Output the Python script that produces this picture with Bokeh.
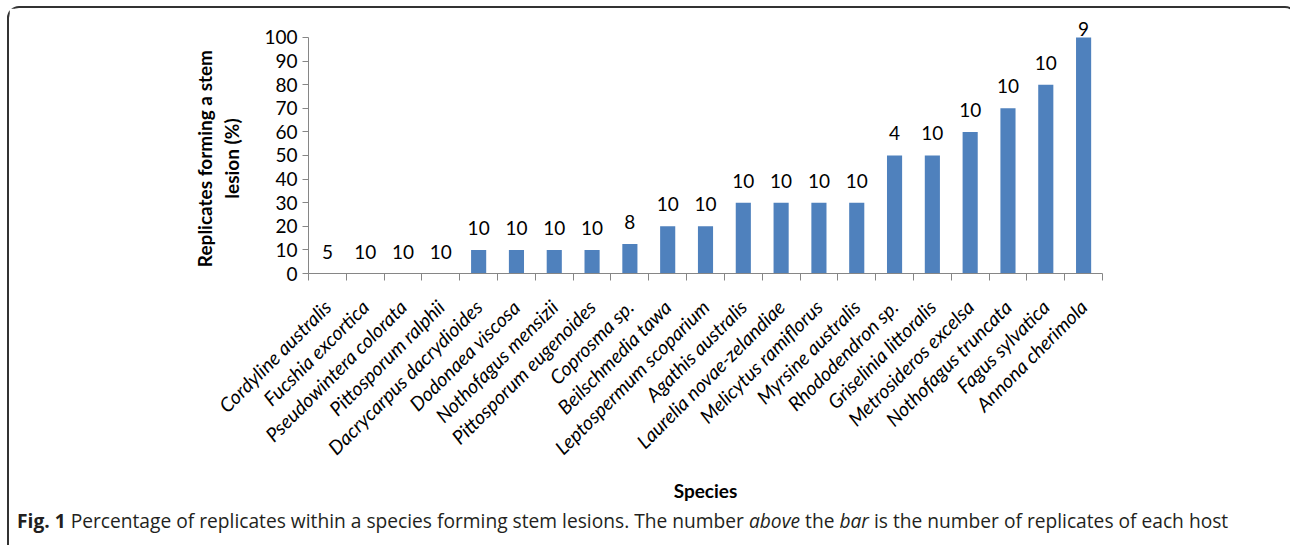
from math import pi

from bokeh.embed import file_html
from bokeh.layouts import column
from bokeh.models import Div, FixedTicker, Label, LinearAxis, Range1d
from bokeh.plotting import figure
from bokeh.resources import INLINE

# Host species, in plotting order
species = [
    "Cordyline australis", "Fucshia excortica", "Pseudowintera colorata",
    "Pittosporum ralphii", "Dacrycarpus dacrydioides", "Dodonaea viscosa",
    "Nothofagus mensizii", "Pittosporum eugenoides", "Coprosma sp.",
    "Beilschmedia tawa", "Leptospermum scoparium", "Agathis australis",
    "Laurelia novae-zelandiae", "Melicytus ramiflorus", "Myrsine australis",
    "Rhododendron sp.", "Griselinia littoralis", "Metrosideros excelsa",
    "Nothofagus truncata", "Fagus sylvatica", "Annona cherimola",
]
# Percentage of replicates forming a stem lesion
lesion_pct = [0, 0, 0, 0, 10, 10, 10, 10, 12.5, 20, 20, 30, 30, 30, 30,
              50, 50, 60, 70, 80, 100]
# Number of replicates tested per host
replicates = [5, 10, 10, 10, 10, 10, 10, 10, 8, 10, 10, 10, 10, 10, 10,
              4, 10, 10, 10, 10, 9]
y_ticks = [0, 10, 20, 30, 40, 50, 60, 70, 80, 90, 100]
y_title_lines = ["Replicates forming a stem", "lesion (%)"]

Y_AXIS_MAX = 100
HEADROOM = 7.2          # room above the value axis for the top count label
AXIS_GREY = "#868686"
BAR_BLUE = "#4F81BD"
FONT = "Lato"

n_cat = len(species)
centres = [i + 0.5 for i in range(n_cat)]      # each species gets one unit slot
edges = list(range(n_cat + 1))                  # slot boundaries carry the ticks

p = figure(
    width=1276, height=500,
    x_range=Range1d(0, n_cat),
    y_range=Range1d(0, Y_AXIS_MAX + HEADROOM),
    x_axis_location=None, y_axis_location=None,
    output_backend="svg", toolbar_location=None,
    min_border_left=299, min_border_right=183,
    min_border_top=12, min_border_bottom=235,
)
p.outline_line_color = None
p.xgrid.visible = False
p.ygrid.visible = False
p.background_fill_color = "white"
p.border_fill_color = "white"

p.vbar(x=centres, top=lesion_pct, width=0.4,
       fill_color=BAR_BLUE, line_color=None)

# replicate counts above each bar; a full-height bar keeps its count tucked on top
for xc, pct, n in zip(centres, lesion_pct, replicates):
    p.add_layout(Label(
        x=xc, y=pct, text=str(n), y_offset=8 if pct >= Y_AXIS_MAX else 22,
        text_align="center", text_baseline="alphabetic",
        text_font=FONT, text_font_size="19px", text_color="black",
    ))

# value axis, drawn only over 0-100
yaxis = LinearAxis(ticker=FixedTicker(ticks=y_ticks), bounds=(0, Y_AXIS_MAX))
yaxis.axis_line_color = AXIS_GREY
yaxis.major_tick_line_color = AXIS_GREY
yaxis.major_tick_out = 6
yaxis.major_tick_in = 0
yaxis.minor_tick_line_color = None
yaxis.major_label_standoff = 5
yaxis.major_label_text_font = FONT
yaxis.major_label_text_font_size = "19px"
yaxis.major_label_text_color = "black"
# the title is centred on the whole frame; trailing no-break spaces pull it
# back to the middle of the 0-100 span
pad = "\u00a0" * 5
yaxis.axis_label = "\n".join(line + pad for line in y_title_lines)
yaxis.axis_label_text_font = FONT
yaxis.axis_label_text_font_size = "19px"
yaxis.axis_label_text_font_style = "bold"
yaxis.axis_label_text_color = "black"
yaxis.axis_label_standoff = 18
p.add_layout(yaxis, "left")

# species axis: names at slot centres, tick marks on the slot boundaries
xaxis = LinearAxis(ticker=FixedTicker(ticks=centres, minor_ticks=edges),
                   major_label_overrides={c: s for c, s in zip(centres, species)})
xaxis.axis_line_color = AXIS_GREY
xaxis.major_tick_line_color = None
xaxis.major_tick_out = 0
xaxis.major_tick_in = 0
xaxis.minor_tick_line_color = AXIS_GREY
xaxis.minor_tick_out = 7
xaxis.minor_tick_in = 0
xaxis.major_label_orientation = pi / 4
xaxis.major_label_standoff = 23
xaxis.major_label_text_font = FONT
xaxis.major_label_text_font_size = "19.5px"
xaxis.major_label_text_font_style = "italic"
xaxis.major_label_text_color = "black"
xaxis.axis_label = "Species"
xaxis.axis_label_text_font = FONT
xaxis.axis_label_text_font_size = "19px"
xaxis.axis_label_text_font_style = "bold"
xaxis.axis_label_text_color = "black"
xaxis.axis_label_standoff = 9
p.add_layout(xaxis, "below")

caption = Div(
    text=("<b>Fig. 1</b> Percentage of replicates within a species forming stem "
          "lesions. The number <i>above</i> the <i>bar</i> is the number of "
          "replicates of each host"),
    width=1276, height=37,
    styles={"font-family": "'Open Sans'", "font-size": "19.2px",
            "line-height": "16px", "color": "#231f20",
            "padding": "0 0 0 3px", "box-sizing": "border-box",
            "white-space": "nowrap"},
)

page = column(p, caption, spacing=0, margin=(6, 0, 0, 7),
              styles={"border": "2px solid #333333", "border-radius": "12px",
                      "background": "white"})

open("out.html", "w").write(file_html(page, INLINE))
